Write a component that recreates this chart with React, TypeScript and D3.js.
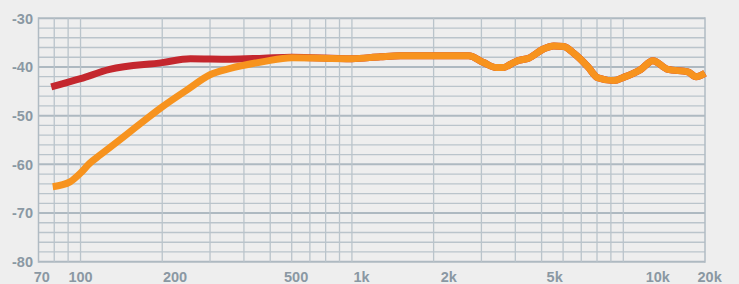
import React, { useEffect } from "react";
import * as d3 from "d3";

const W = 739;
const H = 284;

// Frequency response data (Hz, dB)
const redFreq = [78, 100, 128, 200, 254, 356, 472, 600];
const redDb = [-44.1, -42.4, -40.5, -39.1, -38.3, -38.4, -38.2, -38.0];

const orangeFreq = [
  79, 91.5, 100, 108, 118, 137, 170, 200, 247, 300, 356, 472, 600, 1000, 1274, 1510,
  2000, 2690, 3060, 3400, 3620, 3850, 4080, 4480, 5080, 5540, 6030, 6570, 7390,
  8050, 9230, 10050, 11600, 12850, 14600, 17300, 18540, 20000,
];
const orangeDb = [
  -64.6, -63.6, -61.8, -59.8, -58.1, -55.3, -51.2, -48.2, -44.7, -41.6, -40.3, -38.9,
  -38.1, -38.3, -37.9, -37.7, -37.7, -37.7, -39.1, -40.1, -40.1, -39.4, -38.7,
  -38.2, -36.3, -35.7, -35.8, -37.2, -39.9, -42.2, -42.8, -42.1, -40.5, -38.7,
  -40.5, -41.0, -42.0, -41.3,
];

const yTicks = [-30, -40, -50, -60, -70, -80];
const xTickLabels = ["70", "100", "200", "500", "1k", "2k", "5k", "10k", "20k"];
// where each label sits, in Hz along the axis
const xTickLabelAt = [72, 100, 223, 623, 1085, 2274, 5585, 13400, 20800];
const xGridFreq = [
  80, 90, 100, 200, 300, 400, 500, 600, 700, 800, 900, 1000, 2000, 3000, 4000,
  5000, 6000, 7000, 8000, 9000, 10000,
];
const yGridDb = d3.range(-80, -29, 2);

export default function App() {
  useEffect(() => {
    document.body.style.margin = "0";
    document.body.style.background = "#eeeeee";
  }, []);

  const x = d3.scaleLog().domain([70, 20000]).range([38.5, 705]);
  const y = d3.scaleLinear().domain([-80, -30]).range([261.7, 18.3]);

  const line = d3
    .line<[number, number]>()
    .x((d) => x(d[0]))
    .y((d) => y(d[1]))
    .curve(d3.curveMonotoneX);

  const orangePts: [number, number][] = orangeFreq.map((f, i) => [f, orangeDb[i]]);
  const redPts: [number, number][] = redFreq
    .map((f, i) => [f, redDb[i]] as [number, number])
    .concat(orangePts.filter((p) => p[0] > 600));

  const gridColor = "#bac4cb";
  const textColor = "#8a98a3";
  const font = "'Liberation Sans', Arial, Helvetica, sans-serif";

  return (
    <svg width={W} height={H} style={{ display: "block", background: "#eeeeee" }}>
      <rect x={0} y={0} width={W} height={H} fill="#eeeeee" />
      {/* horizontal grid */}
      {yGridDb.map((v) => (
        <line
          key={"h" + v}
          x1={x(70)}
          x2={x(20000)}
          y1={y(v)}
          y2={y(v)}
          stroke={v % 10 === 0 ? "#aeb9c1" : gridColor}
          strokeWidth={v % 10 === 0 ? 2 : 1.3}
        />
      ))}
      {/* vertical grid */}
      {xGridFreq.map((f) => (
        <line
          key={"v" + f}
          x1={x(f)}
          x2={x(f)}
          y1={y(-30)}
          y2={y(-80)}
          stroke={gridColor}
          strokeWidth={1.3}
        />
      ))}
      <line x1={x(70)} x2={x(70)} y1={y(-30) - 1} y2={y(-80) + 1} stroke="#b0bbc3" strokeWidth={1.5} />
      <line x1={x(20000)} x2={x(20000)} y1={y(-30) - 1} y2={y(-80) + 1} stroke="#b0bbc3" strokeWidth={1.5} />

      {/* curves */}
      <path d={line(redPts) || ""} fill="none" stroke="#c4272e" strokeWidth={7} strokeLinejoin="round" />
      <path d={line(orangePts) || ""} fill="none" stroke="#f7931e" strokeWidth={7} strokeLinejoin="round" />

      {/* y labels */}
      {yTicks.map((v) => (
        <text
          key={"yl" + v}
          x={33}
          y={y(v)}
          dy="0.36em"
          textAnchor="end"
          fontFamily={font}
          fontWeight="bold"
          fontSize={14.5}
          fill={textColor}
        >
          {v}
        </text>
      ))}
      {/* x labels */}
      {xTickLabels.map((t, i) => (
        <text
          key={"xl" + t}
          x={x(xTickLabelAt[i])}
          y={277}
          dy="0.36em"
          textAnchor="middle"
          fontFamily={font}
          fontWeight="bold"
          fontSize={14.5}
          fill={textColor}
        >
          {t}
        </text>
      ))}
    </svg>
  );
}
